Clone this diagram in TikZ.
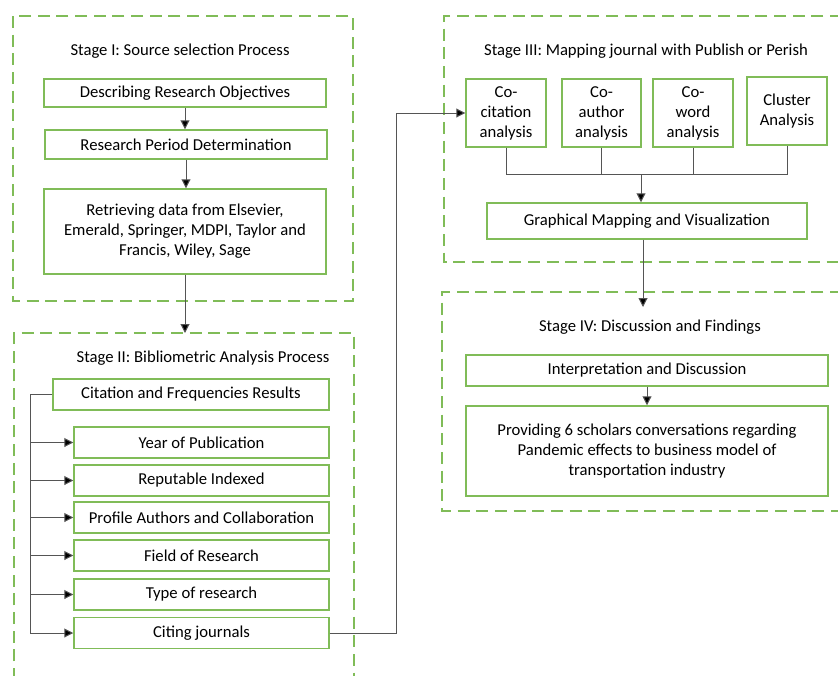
\documentclass[tikz,border=0pt]{standalone}
\usepackage{fontspec}
\setmainfont{Carlito}
\usepackage{tikz}
\usetikzlibrary{arrows.meta}
\usetikzlibrary{calc}
\definecolor{boxgreen}{RGB}{128,188,88}
\definecolor{linegray}{RGB}{85,85,85}

\begin{document}
\begin{tikzpicture}[
			x=0.75pt,y=-0.75pt,
			font=\fontsize{12.5}{15}\selectfont,
			box/.style={
				draw=boxgreen,
				line width=1.1pt,
				align=center,
				inner sep=2pt,
			},
			frame/.style={
				draw=boxgreen,
				line width=1.1pt,
				dash pattern=on 9pt off 5pt,
			},
			title/.style={
				inner sep=2pt,
			},
			conn/.style={
				draw=linegray,
				line width=0.75pt,
			},
			arr/.style={
				conn,
				-{Triangle[length=6.75pt,width=6.75pt,fill=black]},
			},
			]
			\useasboundingbox (0,0) rectangle (838,675);
			%% dashed stage frames
			\draw[frame] (13,16) rectangle (353,301);
			\draw[frame] (14,680) -- (14,333) -- (354,333) -- (354,680);
			\draw[frame] (842,16) -- (444,16) -- (444,262) -- (842,262);
			\draw[frame] (842,292) -- (442,292) -- (442,511) -- (842,511);
			%% Stage I
			\node[title] (s1) at (180,51) {Stage I: Source selection Process};
			\node[box, minimum width=211.5pt, minimum height=21pt] (dro) at (185,93) {Describing Research Objectives};
			\node[box, minimum width=211.5pt, minimum height=21.75pt] (rpd) at (186,144.5) {Research Period Determination};
			\node[box, minimum width=211.5pt, minimum height=63.75pt] (ret) at (185,231.5) {Retrieving data from Elsevier,\\Emerald, Springer, MDPI, Taylor and\\Francis, Wiley, Sage};
			\draw[arr] (dro.south) -- (dro.south |- rpd.north);
			\draw[arr] (rpd.south) -- (rpd.south |- ret.north);
			%% Stage II
			\coordinate (s2in) at (185,333);
			\draw[arr] (ret.south) -- (s2in);
			\node[title] (s2) at (203,358) {Stage II: Bibliometric Analysis Process};
			\node[box, minimum width=207pt, minimum height=23.25pt] (cfr) at (191,394.5) {Citation and Frequencies Results};
			\node[box, minimum width=191.25pt, minimum height=23.25pt] (yop) at (201.5,442.5) {Year of Publication};
			\node[box, minimum width=191.25pt, minimum height=23.25pt] (rin) at (201.5,480.5) {Reputable Indexed};
			\node[box, minimum width=191.25pt, minimum height=23.25pt] (pac) at (201.5,517.5) {Profile Authors and Collaboration};
			\node[box, minimum width=191.25pt, minimum height=23.25pt] (for) at (201.5,555.5) {Field of Research};
			\node[box, minimum width=191.25pt, minimum height=23.25pt] (tor) at (201.5,594.5) {Type of research};
			\node[box, minimum width=191.25pt, minimum height=23.25pt] (cit) at (201.5,633) {Citing journals};
			\coordinate (trunk) at (30,394.5);
			\draw[arr] (cfr.west) -- (trunk) |- (cit.west);
			\draw[arr] (trunk |- yop.west) -- (yop.west);
			\draw[arr] (trunk |- rin.west) -- (rin.west);
			\draw[arr] (trunk |- pac.west) -- (pac.west);
			\draw[arr] (trunk |- for.west) -- (for.west);
			\draw[arr] (trunk |- tor.west) -- (tor.west);
			%% Stage III
			\node[title] (s3) at (646,51) {Stage III: Mapping journal with Publish or Perish};
			\node[box, minimum width=60pt, minimum height=51pt] (cca) at (506,113) {Co-\\citation\\analysis};
			\node[box, minimum width=59.25pt, minimum height=51pt] (cau) at (601.5,113) {Co-\\author\\analysis};
			\node[box, minimum width=60pt, minimum height=51pt] (cwo) at (693,113) {Co-\\word\\analysis};
			\node[box, minimum width=60pt, minimum height=51pt] (cla) at (787,111) {Cluster\\Analysis};
			\node[box, minimum width=240pt, minimum height=27pt] (gmv) at (647,221) {Graphical Mapping and Visualization};
			\coordinate (bend) at (396,113);
			\draw[arr] (cit.east) -- (cit.east -| bend) |- (cca.west);
			\coordinate (jn) at (641,174);
			\draw[conn] (cca.south) |- (cla.south |- jn) -- (cla.south);
			\draw[conn] (cau.south) -- (cau.south |- jn);
			\draw[conn] (cwo.south) -- (cwo.south |- jn);
			\draw[arr] (jn) -- (jn |- gmv.north);
			%% Stage IV
			\coordinate (s4in) at (643,307);
			\draw[arr] (gmv.south -| s4in) -- (s4in);
			\node[title] (s4) at (650,327) {Stage IV: Discussion and Findings};
			\node[box, minimum width=271.5pt, minimum height=23.25pt] (ind) at (647,370.5) {Interpretation and Discussion};
			\node[box, minimum width=271.5pt, minimum height=67.5pt] (prv) at (647,451) {Providing 6 scholars conversations regarding\\Pandemic effects to business model of\\transportation industry};
			\draw[arr] (ind.south) -- (ind.south |- prv.north);
		\end{tikzpicture}
\end{document}
